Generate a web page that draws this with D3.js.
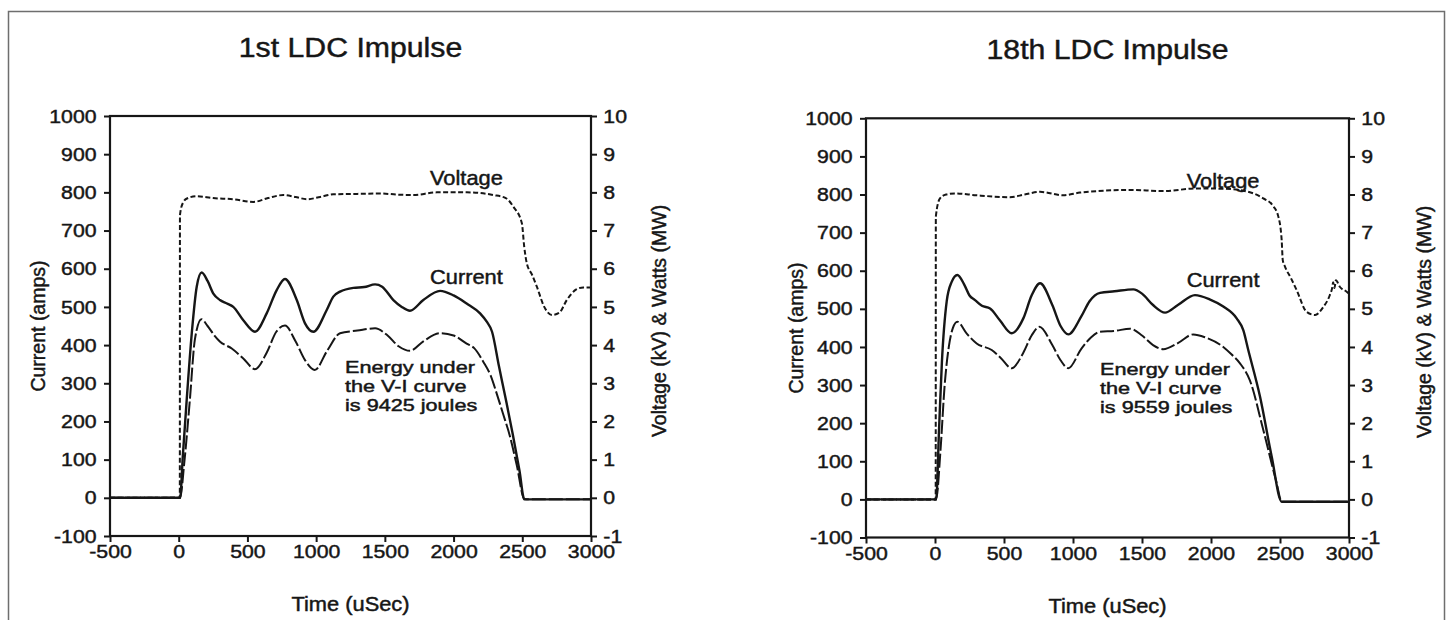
<!DOCTYPE html>
<html><head><meta charset="utf-8">
<script src="https://cdn.jsdelivr.net/npm/d3@7"></script>
<style>
html,body{margin:0;padding:0;background:#fff;}
svg{display:block;}
text{font-family:"Liberation Sans",Arial,Helvetica,sans-serif;fill:#161616;}
</style></head><body>
<svg id="chart" width="1453" height="620"></svg>
<script>
// ---------- data ----------
const timeTicks = [-500, 0, 500, 1000, 1500, 2000, 2500, 3000];
const currentTicks = [-100, 0, 100, 200, 300, 400, 500, 600, 700, 800, 900, 1000];
const voltTicks = [-1, 0, 1, 2, 3, 4, 5, 6, 7, 8, 9, 10];

const titles = ["1st LDC Impulse", "18th LDC Impulse"];
const energyNotes = [
  ["Energy under", "the V-I curve", "is 9425 joules"],
  ["Energy under", "the V-I curve", "is 9559 joules"]
];
const xTitle = "Time (uSec)";
const yLeftTitle = "Current (amps)";
const yRightTitle = "Voltage (kV) & Watts (MW)";

// 1st impulse
const c1Time = [-500, 0, 10, 30, 58, 95, 131, 167, 210, 252, 300, 351, 397, 470, 555, 640, 713, 773, 859, 919, 980, 1077, 1125, 1174, 1271, 1350, 1429, 1480, 1562, 1623, 1683, 1780, 1902, 2000, 2095, 2193, 2240, 2280, 2330, 2380, 2430, 2480, 2515, 2550, 2800, 3000];
const c1Current = [0, 0, 0, 110, 256, 431, 553, 590, 568, 535, 518, 509, 500, 465, 435, 483, 544, 573, 518, 457, 435, 492, 527, 540, 550, 552, 559, 553, 518, 500, 490, 518, 542, 530, 509, 483, 462, 435, 345, 258, 168, 70, -4, -4, -4, -4];
const p1Time = [-500, 0, 10, 40, 81, 117, 165, 210, 260, 301, 386, 470, 555, 640, 710, 773, 850, 920, 990, 1080, 1174, 1300, 1429, 1520, 1600, 1683, 1780, 1902, 2000, 2095, 2150, 2217, 2270, 2314, 2360, 2411, 2460, 2515, 2550, 3000];
const p1Power = [0, 0, 0, 0.9, 2.56, 4.13, 4.68, 4.5, 4.25, 4.09, 3.91, 3.65, 3.37, 3.8, 4.35, 4.51, 4.1, 3.6, 3.35, 3.85, 4.31, 4.38, 4.44, 4.25, 3.97, 3.85, 4.1, 4.31, 4.25, 4.04, 3.92, 3.56, 3.2, 2.73, 2.2, 1.6, 0.85, -0.03, -0.04, -0.04];
const v1Time = [-500, 0, 8, 9, 30, 60, 131, 250, 400, 543, 650, 761, 850, 932, 1030, 1125, 1300, 1465, 1600, 1708, 1878, 2097, 2290, 2380, 2436, 2497, 2514, 2533, 2570, 2606, 2660, 2715, 2770, 2824, 2890, 2945, 3000];
const v1Volt = [0, 0, 0, 7.4, 7.72, 7.84, 7.9, 7.85, 7.82, 7.75, 7.85, 7.93, 7.88, 7.82, 7.88, 7.95, 7.96, 7.97, 7.94, 7.93, 8.0, 8.0, 7.93, 7.85, 7.62, 7.19, 6.58, 6.14, 5.85, 5.53, 5.0, 4.79, 4.85, 5.18, 5.45, 5.51, 5.51];

// 18th impulse
const c2Time = [-500, 0, 8, 30, 50, 85, 120, 162, 210, 250, 290, 340, 399, 470, 556, 640, 700, 761, 850, 910, 966, 1060, 1120, 1196, 1300, 1437, 1500, 1580, 1667, 1760, 1884, 1990, 2089, 2186, 2234, 2270, 2355, 2440, 2512, 2550, 3000];
const c2Current = [0, 0, 0, 190, 360, 520, 570, 589, 565, 535, 523, 508, 501, 470, 436, 475, 535, 567, 510, 455, 433, 480, 520, 542, 546, 551, 540, 510, 490, 510, 536, 525, 506, 475, 444, 392, 270, 112, -6, -6, -6];
const p2Time = [-500, 0, 8, 40, 70, 100, 130, 162, 230, 302, 411, 480, 556, 640, 700, 756, 850, 910, 966, 1060, 1130, 1196, 1300, 1413, 1500, 1580, 1654, 1760, 1872, 1960, 2089, 2150, 2210, 2281, 2379, 2476, 2512, 2550, 3000];
const p2Power = [0, 0, 0, 1.3, 3.0, 4.0, 4.5, 4.66, 4.35, 4.09, 3.92, 3.7, 3.44, 3.85, 4.3, 4.53, 4.05, 3.65, 3.44, 3.95, 4.25, 4.4, 4.42, 4.48, 4.3, 4.05, 3.94, 4.1, 4.33, 4.25, 4.0, 3.8, 3.57, 3.13, 1.82, 0.42, -0.06, -0.06, -0.06];
const v2Time = [-500, 0, 5, 6, 36, 80, 145, 300, 543, 650, 761, 930, 1050, 1172, 1413, 1654, 1896, 2100, 2234, 2379, 2450, 2488, 2512, 2520, 2536, 2580, 2621, 2693, 2754, 2814, 2860, 2878, 2885, 2895, 2905, 2933, 2983, 3000];
const v2Volt = [0, 0, 0, 7.42, 7.9, 8.0, 8.03, 7.98, 7.93, 8.0, 8.07, 7.98, 8.05, 8.09, 8.12, 8.09, 8.16, 8.15, 8.1, 7.9, 7.7, 7.42, 6.81, 6.28, 6.11, 5.8, 5.49, 4.92, 4.84, 5.05, 5.35, 5.55, 5.7, 5.55, 5.75, 5.58, 5.45, 5.4];

// ---------- layout ----------
const panels = [
  { x0: 110, x1: 591, yb: 536, yt: 116, title: titles[0], note: energyNotes[0],
    cur: [c1Time, c1Current], pow: [p1Time, p1Power], volt: [v1Time, v1Volt],
    titleY: 57, vLab: [430, 185], cLab: [430, 284], eLab: [345, 373],
    timeY: 611, yl: [38.5, 326], yr: [659, 321] },
  { x0: 866, x1: 1349, yb: 537.5, yt: 118.3, title: titles[1], note: energyNotes[1],
    cur: [c2Time, c2Current], pow: [p2Time, p2Power], volt: [v2Time, v2Volt],
    titleY: 59, vLab: [1186.7, 188], cLab: [1186.7, 287], eLab: [1100, 375],
    timeY: 613, yl: [796, 328], yr: [1424, 322] }
];

const SX = 1.12;      // horizontal stretch of the scanned lettering
const INK = "#161616";
const TSTROKE = 0.45; // scan-like heavier lettering
const svg = d3.select("#chart");

svg.append("rect").attr("x", 8.5).attr("y", 11.5).attr("width", 1436).attr("height", 660)
  .attr("fill", "none").attr("stroke", "#6e6e6e").attr("stroke-width", 1.5);

function heavy(t) { return t.attr("stroke", INK).attr("stroke-width", TSTROKE); }

function label(x, y, s, size, anchor, rot, sx) {
  const t = svg.append("text").text(s).attr("font-size", size)
    .attr("text-anchor", anchor || "start");
  if (rot) t.attr("transform", `translate(${x},${y}) rotate(-90)`).attr("dy", "0.35em");
  else t.attr("transform", `translate(${x},${y}) scale(${sx || SX},1)`);
  return heavy(t);
}

function styleAxis(g) {
  g.select(".domain").remove();
  g.selectAll(".tick line").attr("stroke", INK).attr("stroke-width", 2);
  heavy(g.selectAll(".tick text").attr("font-size", 19).attr("fill", INK)
    .attr("font-family", "'Liberation Sans',Arial,Helvetica,sans-serif")
    .attr("transform", `scale(${SX},1)`));
}

const fmt = d => String(d);

panels.forEach(p => {
  const x = d3.scaleLinear().domain([-500, 3000]).range([p.x0, p.x1]);
  const yL = d3.scaleLinear().domain([-100, 1000]).range([p.yb, p.yt]);
  const yR = d3.scaleLinear().domain([-1, 10]).range([p.yb, p.yt]);

  const gb = svg.append("g").attr("transform", `translate(0,${p.yb})`)
    .call(d3.axisBottom(x).tickValues(timeTicks).tickFormat(fmt).tickSize(6).tickSizeOuter(0).tickPadding(3));
  styleAxis(gb);

  const gl = svg.append("g").attr("transform", `translate(${p.x0},0)`)
    .call(d3.axisLeft(yL).tickValues(currentTicks).tickFormat(fmt).tickSize(6).tickSizeOuter(0).tickPadding(6));
  styleAxis(gl);

  const gr = svg.append("g").attr("transform", `translate(${p.x1},0)`)
    .call(d3.axisRight(yR).tickValues(voltTicks).tickFormat(fmt).tickSize(6).tickSizeOuter(0).tickPadding(5));
  styleAxis(gr);

  svg.append("rect").attr("x", p.x0).attr("y", p.yt)
    .attr("width", p.x1 - p.x0).attr("height", p.yb - p.yt)
    .attr("fill", "none").attr("stroke", INK).attr("stroke-width", 2.2);

  const lineL = d3.line().x(d => x(d[0])).y(d => yL(d[1])).curve(d3.curveMonotoneX);
  const lineR = d3.line().x(d => x(d[0])).y(d => yR(d[1])).curve(d3.curveMonotoneX);

  svg.append("path").datum(d3.zip(p.volt[0], p.volt[1])).attr("d", lineR)
    .attr("fill", "none").attr("stroke", INK).attr("stroke-width", 2)
    .attr("stroke-dasharray", "5,2.5");
  svg.append("path").datum(d3.zip(p.pow[0], p.pow[1])).attr("d", lineR)
    .attr("fill", "none").attr("stroke", INK).attr("stroke-width", 2)
    .attr("stroke-dasharray", "14,3");
  svg.append("path").datum(d3.zip(p.cur[0], p.cur[1])).attr("d", lineL)
    .attr("fill", "none").attr("stroke", INK).attr("stroke-width", 2.4);

  label((p.x0 + p.x1) / 2, p.titleY, p.title, 27, "middle");
  label(p.vLab[0], p.vLab[1], "Voltage", 19.5, "start");
  label(p.cLab[0], p.cLab[1], "Current", 19.5, "start");

  // energy note: three tightly spaced lines, slightly wider lettering so the boxes do not collide
  p.note.forEach((s, i) => label(p.eLab[0], p.eLab[1] + i * 19, s, 16.4, "start", false, 1.32));

  label((p.x0 + p.x1) / 2, p.timeY, xTitle, 19.5, "middle");
  label(p.yl[0], p.yl[1], yLeftTitle, 19.5, "middle", true);
  label(p.yr[0], p.yr[1], yRightTitle, 19.5, "middle", true);
});
</script>
</body></html>
